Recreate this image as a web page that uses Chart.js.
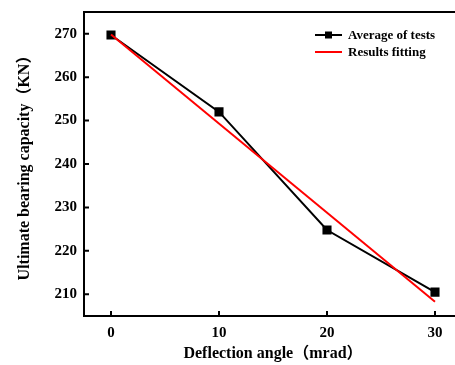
<!DOCTYPE html>
<html>
<head>
<meta charset="utf-8">
<script src="https://cdn.jsdelivr.net/npm/chart.js@4/dist/chart.umd.min.js"></script>
<style>
html,body{margin:0;padding:0;background:#fff;overflow:hidden;width:455px;height:365px;}
#c{position:absolute;left:0;top:0;}
</style>
</head>
<body>
<canvas id="c" width="469" height="365"></canvas>
<script>
// ---- data ----
const deflectionAngles = [0, 10, 20, 30];
const averageOfTests = [269.7, 252.0, 224.8, 210.5];
const fitAngles = [0, 30];
const resultsFitting = [269.8, 208.3];
const xTickValues = [0, 10, 20, 30];
const yTickValues = [210, 220, 230, 240, 250, 260, 270];
const seriesNames = ['Average of tests', 'Results fitting'];
const xTitle = 'Deflection angle（mrad）';
const yTitle = 'Ultimate bearing capacity（KN）';

const serif = '"Liberation Serif", "Times New Roman", "Noto Sans CJK SC", serif';

const frame = {
  id: 'frame',
  afterDatasetsDraw(chart) {
    const {ctx, chartArea: a, scales: {x, y}} = chart;
    ctx.save();
    ctx.strokeStyle = '#000';
    ctx.lineWidth = 2;
    ctx.strokeRect(a.left, a.top, a.right - a.left, a.bottom - a.top);
    ctx.beginPath();
    x.ticks.forEach(t => { const px = x.getPixelForValue(t.value); ctx.moveTo(px, a.bottom); ctx.lineTo(px, a.bottom - 5); });
    y.ticks.forEach(t => { const py = y.getPixelForValue(t.value); ctx.moveTo(a.left, py); ctx.lineTo(a.left + 5, py); });
    ctx.stroke();
    const items = chart.data.datasets;
    const lx = 315, ly0 = 35, dy = 17;
    ctx.font = 'bold 13px ' + serif;
    ctx.textBaseline = 'middle';
    ctx.textAlign = 'left';
    [1, 0].forEach((di, row) => {
      const ds = items[di];
      const yy = ly0 + row * dy;
      ctx.strokeStyle = ds.borderColor;
      ctx.lineWidth = 2;
      ctx.beginPath(); ctx.moveTo(lx, yy); ctx.lineTo(lx + 27, yy); ctx.stroke();
      if (ds.pointRadius > 0) {
        ctx.fillStyle = ds.borderColor;
        ctx.fillRect(lx + 13.5 - 3.5, yy - 3.5, 7, 7);
      }
      ctx.fillStyle = '#000';
      ctx.fillText(ds.label, lx + 33, yy + 1);
    });
    ctx.restore();
  }
};

new Chart(document.getElementById('c'), {
  type: 'scatter',
  data: {
    datasets: [
      {
        label: seriesNames[1],
        data: fitAngles.map((v, i) => ({x: v, y: resultsFitting[i]})),
        showLine: true,
        borderColor: '#ff0000',
        backgroundColor: '#ff0000',
        borderWidth: 2,
        pointRadius: 0,
        order: 0
      },
      {
        label: seriesNames[0],
        data: deflectionAngles.map((v, i) => ({x: v, y: averageOfTests[i]})),
        showLine: true,
        borderColor: '#000000',
        backgroundColor: '#000000',
        borderWidth: 2,
        pointStyle: 'rect',
        pointRadius: 5,
        pointHoverRadius: 5,
        order: 1
      }
    ]
  },
  options: {
    responsive: false,
    animation: false,
    events: [],
    layout: {padding: {top: 12, right: 2, left: 0, bottom: 0}},
    plugins: {legend: {display: false}, tooltip: {enabled: false}},
    scales: {
      x: {
        type: 'linear', min: -2.5, max: 32.5,
        afterBuildTicks: s => { s.ticks = xTickValues.map(v => ({value: v})); },
        afterFit: s => { s.height = 49; s.paddingLeft = 0; s.paddingRight = 0; },
        grid: {display: false, drawTicks: false},
        border: {display: false},
        ticks: {color: '#000', font: {family: serif, size: 15, weight: 'bold'}, padding: 8, maxRotation: 0},
        title: {display: true, text: xTitle, color: '#000', font: {family: serif, size: 16, weight: 'bold'}, padding: {top: 4, bottom: 2}}
      },
      y: {
        type: 'linear', min: 205, max: 275,
        afterBuildTicks: s => { s.ticks = yTickValues.map(v => ({value: v})); },
        afterFit: s => { s.width = 84; s.paddingTop = 0; s.paddingBottom = 0; },
        grid: {display: false, drawTicks: false},
        border: {display: false},
        ticks: {color: '#000', font: {family: serif, size: 15, weight: 'bold'}, padding: 7},
        title: {display: true, text: yTitle, color: '#000', font: {family: serif, size: 16, weight: 'bold'}, padding: {top: 15, bottom: 0}}
      }
    }
  },
  plugins: [frame]
});
</script>
</body>
</html>
